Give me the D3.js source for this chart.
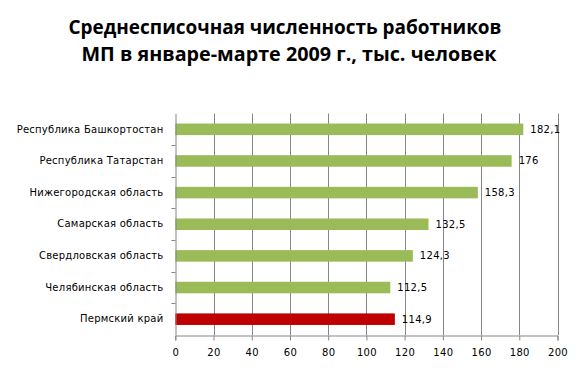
<!DOCTYPE html>
<html><head><meta charset="utf-8">
<script src="https://cdn.jsdelivr.net/npm/d3@7"></script>
<style>html,body{margin:0;padding:0;background:#fff;}</style>
</head><body>
<script>
const categories = ["Республика Башкортостан","Республика Татарстан","Нижегородская область","Самарская область","Свердловская область","Челябинская область","Пермский край"];
const values = [182.1, 176, 158.3, 132.5, 124.3, 112.5, 114.9];
const labels = ["182,1","176","158,3","132,5","124,3","112,5","114,9"];
const highlight = ["Пермский край"];
const xTicks = [0,20,40,60,80,100,120,140,160,180,200];
const titleLines = ["Среднесписочная численность работников","МП в январе-марте 2009 г., тыс. человек"];

const W=582,H=379;
const svg=d3.select("body").append("svg").attr("width",W).attr("height",H);
const x=d3.scaleLinear().domain([0,200]).range([175.3,557.5]);
const y=d3.scaleBand().domain(categories).range([113.5,335]).paddingInner(0.635).paddingOuter(0.3175);

// title
const tl=[{t:titleLines[0],y:34,len:433,cx:285},{t:titleLines[1],y:61,len:415,cx:289}];
svg.selectAll("text.title").data(tl).enter().append("text").attr("class","title")
 .attr("x",d=>d.cx).attr("y",d=>d.y).attr("text-anchor","middle")
 .attr("font-family","'Open Sans', 'Noto Sans', sans-serif").attr("font-weight","bold").attr("font-size",20)
 .attr("textLength",d=>d.len).attr("lengthAdjust","spacingAndGlyphs")
 .attr("fill","#000").text(d=>d.t);

// gridlines
svg.append("g").selectAll("line").data(xTicks.slice(1)).enter().append("line")
 .attr("x1",d=>Math.round(x(d))+0.5).attr("x2",d=>Math.round(x(d))+0.5)
 .attr("y1",113.5).attr("y2",335).attr("stroke","#868686").attr("stroke-width",1);

// bars
svg.append("g").selectAll("rect").data(categories).enter().append("rect")
 .attr("x",x(0)).attr("y",d=>y(d)).attr("height",y.bandwidth())
 .attr("width",(d,i)=>x(values[i])-x(0))
 .attr("fill",d=>highlight.includes(d)?"#C00000":"#9BBB59");

// x axis
const xa=svg.append("g").attr("transform","translate(0,335.5)")
 .call(d3.axisBottom(x).tickValues(xTicks).tickSize(5).tickPadding(8).tickFormat(d3.format("d")));
xa.select(".domain").attr("stroke","#868686");
xa.selectAll(".tick line").attr("stroke","#868686");
xa.selectAll("text").attr("font-family","'DejaVu Sans', sans-serif").attr("font-size",10).attr("fill","#000").attr("letter-spacing",0.3);

// y axis
const ya=svg.append("g").attr("transform","translate(175.5,0)")
 .call(d3.axisLeft(y).tickSize(0).tickPadding(12));
ya.select(".domain").attr("stroke","#868686");
ya.selectAll("text").attr("font-family","'DejaVu Sans', sans-serif").attr("font-size",10).attr("fill","#000").attr("letter-spacing",0.25);
// y tick marks at band boundaries
const bounds=categories.slice(1).map(c=>y(c)-y.step()*y.paddingInner()/2);
ya.append("g").selectAll("line").data(bounds).enter().append("line")
 .attr("x1",-4).attr("x2",0).attr("y1",d=>Math.round(d)+0.5).attr("y2",d=>Math.round(d)+0.5).attr("stroke","#868686");

// data labels
svg.append("g").selectAll("text").data(categories).enter().append("text")
 .attr("x",(d,i)=>x(values[i])+7).attr("y",d=>y(d)+y.bandwidth()/2).attr("dy","0.35em")
 .attr("font-family","'DejaVu Sans', sans-serif").attr("font-size",10).attr("fill","#000").attr("letter-spacing",0.3)
 .text((d,i)=>labels[i]);
</script>
</body></html>
